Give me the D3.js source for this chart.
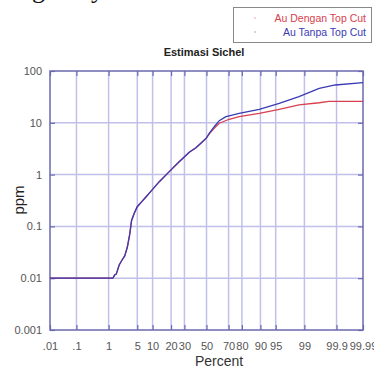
<!DOCTYPE html>
<html>
<head>
<meta charset="utf-8">
<script src="https://cdn.jsdelivr.net/npm/d3@7"></script>
<style>
  body { margin: 0; background: #fff; }
  svg { display: block; font-family: "Liberation Sans", Arial, sans-serif; }
</style>
</head>
<body>
<svg width="374" height="370"></svg>
<script>
// Data (percent, ppm)
var percentTicks = [0.01, 0.1, 1, 5, 10, 20, 30, 50, 70, 80, 90, 95, 99, 99.9, 99.99];
var percentLabels = [".01", ".1", "1", "5", "10", "20", "30", "50", "70", "80", "90", "95", "99", "99.9", "99.99"];
var ppmTicks = [0.001, 0.01, 0.1, 1, 10, 100];
var ppmLabels = ["0.001", "0.01", "0.1", "1", "10", "100"];

var sharedPct = [0.01, 1.3, 1.45, 1.6, 1.9, 2.2, 2.6, 3.0, 3.4, 3.75, 4.3, 5.0, 6.2, 7.5, 8.7, 13.1, 18.8, 25.8, 34.1, 40.1, 46.2, 50];
var sharedPpm = [0.01, 0.01, 0.0115, 0.012, 0.018, 0.022, 0.027, 0.04, 0.07, 0.13, 0.18, 0.24, 0.3, 0.37, 0.44, 0.73, 1.14, 1.77, 2.7, 3.3, 4.32, 5.1];

var tanpaPct = [52.6, 57.3, 61.9, 67.8, 70.5, 78.1, 89.5, 95.8, 98.6, 99.63, 99.89, 99.99];
var tanpaPpm = [6.27, 8.4, 11.0, 13.1, 13.6, 15.2, 18.2, 23.8, 31.9, 46.3, 53.7, 59.4];

var denganPct = [52.6, 57.3, 61.9, 70.5, 78.1, 89.5, 95.8, 98.6, 99.63, 99.82, 99.99];
var denganPpm = [6.1, 7.8, 9.8, 11.7, 13.1, 15.2, 18.2, 22.1, 24.4, 26.0, 26.0];

var seriesNames = ["Au Dengan Top Cut", "Au Tanpa Top Cut"];
var seriesColors = ["#d8404e", "#3a3ab4"];

// inverse normal cdf (Acklam)
function probit(p) {
	var a = [-39.69683028665376, 220.9460984245205, -275.9285104469687, 138.357751867269, -30.66479806614716, 2.506628277459239];
	var b = [-54.47609879822406, 161.5858368580409, -155.6989798598866, 66.80131188771972, -13.28068155288572];
	var c = [-0.007784894002430293, -0.3223964580411365, -2.400758277161838, -2.549732539343734, 4.374664141464968, 2.938163982698783];
	var d = [0.007784695709041462, 0.3224671290700398, 2.445134137142996, 3.754408661907416];
	var pl = 0.02425, q, r;
	if (p < pl) {
		q = Math.sqrt(-2 * Math.log(p));
		return (((((c[0] * q + c[1]) * q + c[2]) * q + c[3]) * q + c[4]) * q + c[5]) / ((((d[0] * q + d[1]) * q + d[2]) * q + d[3]) * q + 1);
	}
	if (p <= 1 - pl) {
		q = p - 0.5; r = q * q;
		return (((((a[0] * r + a[1]) * r + a[2]) * r + a[3]) * r + a[4]) * r + a[5]) * q / (((((b[0] * r + b[1]) * r + b[2]) * r + b[3]) * r + b[4]) * r + 1);
	}
	q = Math.sqrt(-2 * Math.log(1 - p));
	return -(((((c[0] * q + c[1]) * q + c[2]) * q + c[3]) * q + c[4]) * q + c[5]) / ((((d[0] * q + d[1]) * q + d[2]) * q + d[3]) * q + 1);
}

var svg = d3.select("svg");
var plotLeft = 50, plotRight = 363, plotTop = 71, plotBottom = 330;

var zscale = d3.scaleLinear().domain([probit(0.0001), probit(0.9999)]).range([plotLeft, plotRight]);
var xscale = (pct) => zscale(probit(pct / 100));
var yscale = d3.scaleLog().domain([0.001, 100]).range([plotBottom, plotTop]);

var gridColor = "#c0c0ea";
var frameColor = "#6a6ab0";

// document text fragment cut off at top
svg.append("text").attr("x", 32).attr("y", -2).attr("font-family", "Liberation Serif, serif")
	.attr("font-size", 26).attr("fill", "#111").text("g");
svg.append("text").attr("x", 91).attr("y", -2).attr("font-family", "Liberation Serif, serif")
	.attr("font-size", 26).attr("fill", "#111").text("y");

// gridlines
var grid = svg.append("g");
grid.selectAll("line.v").data(percentTicks.slice(1, -1)).enter().append("line")
	.attr("x1", (d) => xscale(d)).attr("x2", (d) => xscale(d))
	.attr("y1", plotTop).attr("y2", plotBottom)
	.attr("stroke", gridColor).attr("stroke-width", 1.5);
grid.selectAll("line.h").data(ppmTicks.slice(1, -1)).enter().append("line")
	.attr("x1", plotLeft).attr("x2", plotRight)
	.attr("y1", (d) => yscale(d)).attr("y2", (d) => yscale(d))
	.attr("stroke", gridColor).attr("stroke-width", 1.5);

// axes
var xTickZ = percentTicks.map((p) => probit(p / 100));
var xaxis = d3.axisBottom(zscale).tickValues(xTickZ)
	.tickFormat((d, i) => percentLabels[i])
	.tickSizeInner(-5).tickSizeOuter(0).tickPadding(12);
var xg = svg.append("g").attr("transform", `translate(0,${plotBottom})`).call(xaxis);
var xtop = d3.axisTop(zscale).tickValues(xTickZ)
	.tickFormat("").tickSizeInner(-5).tickSizeOuter(0);
var xtg = svg.append("g").attr("transform", `translate(0,${plotTop})`).call(xtop);

var yaxis = d3.axisLeft(yscale).tickValues(ppmTicks)
	.tickFormat((d, i) => ppmLabels[i])
	.tickSizeInner(-5).tickSizeOuter(0).tickPadding(8);
var yg = svg.append("g").attr("transform", `translate(${plotLeft},0)`).call(yaxis);
var yright = d3.axisRight(yscale).tickValues(ppmTicks).tickFormat("").tickSizeInner(-5).tickSizeOuter(0);
var yrg = svg.append("g").attr("transform", `translate(${plotRight},0)`).call(yright);

[xg, xtg, yg, yrg].forEach((g) => {
	g.select(".domain").remove();
	g.selectAll(".tick line").attr("stroke", frameColor).attr("stroke-width", 1.2);
	g.selectAll(".tick text").attr("fill", "#555").attr("font-size", 11).attr("font-family", null);
});

svg.append("rect").attr("x", plotLeft).attr("y", plotTop)
	.attr("width", plotRight - plotLeft).attr("height", plotBottom - plotTop)
	.attr("fill", "none").attr("stroke", frameColor).attr("stroke-width", 1.5);

// lines
var line = d3.line().x((d) => xscale(d[0])).y((d) => yscale(d[1]));
var shared = sharedPct.map((p, i) => [p, sharedPpm[i]]);
var dengan = shared.concat(denganPct.map((p, i) => [p, denganPpm[i]]));
var tanpa = shared.concat(tanpaPct.map((p, i) => [p, tanpaPpm[i]]));

svg.append("path").datum(dengan).attr("d", line).attr("fill", "none")
	.attr("stroke", seriesColors[0]).attr("stroke-width", 1.3);
svg.append("path").datum(tanpa).attr("d", line).attr("fill", "none")
	.attr("stroke", seriesColors[1]).attr("stroke-width", 1.3);

// titles
svg.append("text").attr("x", 204).attr("y", 56).attr("text-anchor", "middle")
	.attr("font-size", 11).attr("font-weight", "bold").attr("fill", "#222").text("Estimasi Sichel");
svg.append("text").attr("x", 219).attr("y", 366).attr("text-anchor", "middle")
	.attr("font-size", 14).attr("fill", "#333").text("Percent");
svg.append("text").attr("transform", "translate(24,200) rotate(-90)").attr("text-anchor", "middle")
	.attr("font-size", 15).attr("fill", "#222").text("ppm");

// legend
var legend = svg.append("g");
legend.append("rect").attr("x", 233.5).attr("y", 7.5).attr("width", 138).attr("height", 35)
	.attr("fill", "#fff").attr("stroke", "#888").attr("stroke-width", 1);
seriesNames.forEach((name, i) => {
	legend.append("circle").attr("cx", 255).attr("cy", 18 + i * 14).attr("r", 0.8)
		.attr("fill", seriesColors[i]).attr("opacity", 0.5);
	legend.append("text").attr("x", 366).attr("y", 22 + i * 14).attr("text-anchor", "end")
		.attr("font-size", 10.5).attr("fill", seriesColors[i]).text(name);
});
</script>
</body>
</html>
